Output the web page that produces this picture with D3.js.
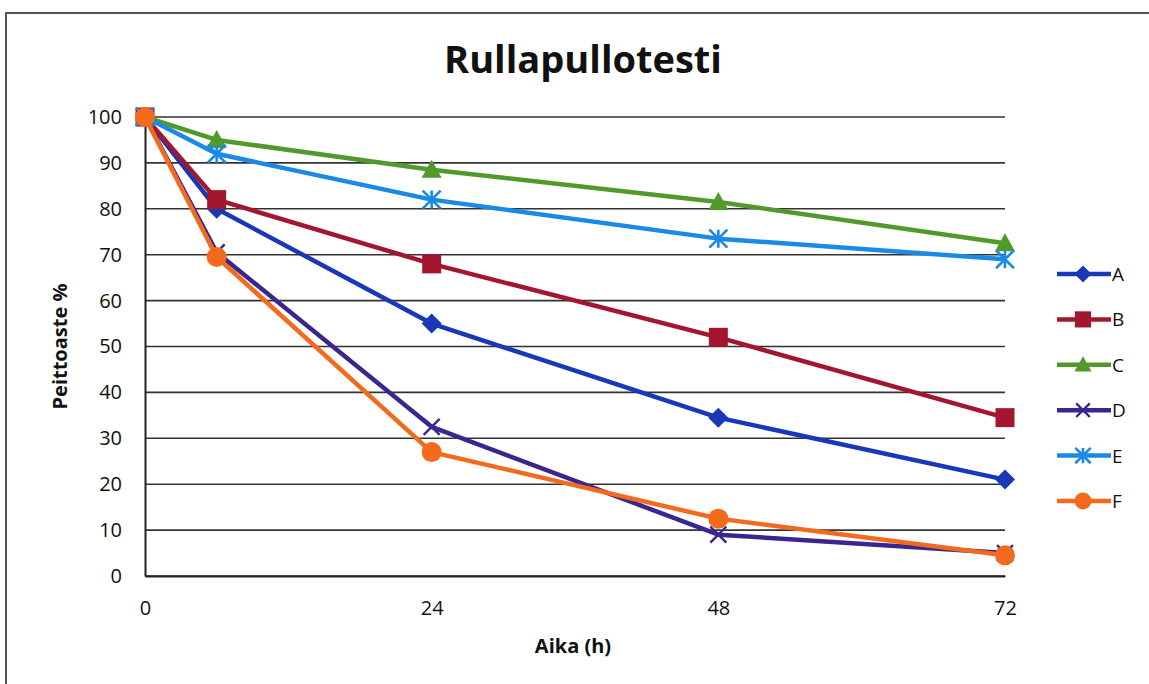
<!DOCTYPE html>
<html>
<head>
<meta charset="utf-8">
<script src="https://cdn.jsdelivr.net/npm/d3@7"></script>
<style>
  html, body { margin: 0; padding: 0; background: #fff; }
  svg { display: block; font-family: "Open Sans", "Liberation Sans", sans-serif; }
</style>
</head>
<body>
<svg id="chart" width="1149" height="684"></svg>
<script>
// Rolling bottle test: coverage (%) over time (h)
const hours = [0, 6, 24, 48, 72];
const seriesNames = ["A", "B", "C", "D", "E", "F"];
const valuesA = [100, 80, 55, 34.5, 21];
const valuesB = [100, 82, 68, 52, 34.5];
const valuesC = [100, 95, 88.5, 81.5, 72.5];
const valuesD = [100, 70.5, 32.5, 9, 5];
const valuesE = [100, 92, 82, 73.5, 69];
const valuesF = [100, 69.5, 27, 12.5, 4.5];
const xTicks = [0, 24, 48, 72];
const yTicks = [0, 10, 20, 30, 40, 50, 60, 70, 80, 90, 100];

const colors = ["#1838b8", "#a3172e", "#4f9a2a", "#3b2690", "#1a8ae6", "#f46a1c"];
const symbols = ["diamond", "square", "triangle", "x", "star", "circle"];

const series = seriesNames.map((name, i) => ({
  name,
  color: colors[i],
  symbol: symbols[i],
  values: [valuesA, valuesB, valuesC, valuesD, valuesE, valuesF][i]
}));

const svg = d3.select("#chart");

// outer frame (top and left edges)
svg.append("path")
  .attr("d", "M6,684 L6,13 L1149,13")
  .attr("fill", "none")
  .attr("stroke", "#555")
  .attr("stroke-width", 2);

const plot = { left: 145, right: 1005, top: 117, bottom: 576 };

const x = d3.scaleLinear().domain([0, 72]).range([plot.left, plot.right]);
const y = d3.scaleLinear().domain([0, 100]).range([plot.bottom, plot.top]);

// horizontal gridlines
svg.append("g")
  .selectAll("line")
  .data(yTicks)
  .join("line")
  .attr("x1", plot.left)
  .attr("x2", plot.right)
  .attr("y1", d => y(d))
  .attr("y2", d => y(d))
  .attr("stroke", "#333")
  .attr("stroke-width", 1.6);

// y axis
const yAxis = svg.append("g")
  .attr("transform", `translate(${plot.left},0)`)
  .call(d3.axisLeft(y).tickValues(yTicks).tickSize(0).tickPadding(23));
yAxis.select(".domain").attr("stroke", "#222").attr("stroke-width", 2);
yAxis.selectAll("text")
  .attr("font-size", 20)
  .attr("font-weight", 500)
  .attr("fill", "#111")
  .attr("font-family", "'Open Sans', sans-serif");

// x axis
const xAxis = svg.append("g")
  .attr("transform", `translate(0,${plot.bottom})`)
  .call(d3.axisBottom(x).tickValues(xTicks).tickSize(0).tickPadding(25));
xAxis.select(".domain").attr("stroke", "#222").attr("stroke-width", 2);
xAxis.selectAll("text")
  .attr("font-size", 20)
  .attr("font-weight", 500)
  .attr("fill", "#111")
  .attr("font-family", "'Open Sans', sans-serif");

// title and axis titles
svg.append("text")
  .attr("x", 583)
  .attr("y", 73)
  .attr("text-anchor", "middle")
  .attr("font-size", 38)
  .attr("font-weight", "bold")
  .attr("fill", "#111")
  .text("Rullapullotesti");

svg.append("text")
  .attr("x", 573)
  .attr("y", 653)
  .attr("text-anchor", "middle")
  .attr("font-size", 20)
  .attr("font-weight", "bold")
  .attr("fill", "#111")
  .text("Aika (h)");

svg.append("text")
  .attr("transform", `translate(67,${(plot.top + plot.bottom) / 2}) rotate(-90)`)
  .attr("text-anchor", "middle")
  .attr("font-size", 20)
  .attr("font-weight", "bold")
  .attr("fill", "#111")
  .text("Peittoaste %");

// marker drawing
function drawMarker(g, s, cx, cy, scale = 1) {
  const k = scale;
  if (s.symbol === "diamond") {
    const r = 10 * k;
    g.append("path")
      .attr("d", `M${cx},${cy - r} L${cx + r},${cy} L${cx},${cy + r} L${cx - r},${cy} Z`)
      .attr("fill", s.color);
  } else if (s.symbol === "square") {
    g.append("rect")
      .attr("x", cx - 9.5 * k).attr("y", cy - 9.5 * k)
      .attr("width", 19 * k).attr("height", 19 * k)
      .attr("fill", s.color);
  } else if (s.symbol === "triangle") {
    g.append("path")
      .attr("d", `M${cx},${cy - 10 * k} L${cx + 10 * k},${cy + 8 * k} L${cx - 10 * k},${cy + 8 * k} Z`)
      .attr("fill", s.color);
  } else if (s.symbol === "x") {
    const r = 8 * k;
    g.append("path")
      .attr("d", `M${cx - r},${cy - r} L${cx + r},${cy + r} M${cx - r},${cy + r} L${cx + r},${cy - r}`)
      .attr("stroke", s.color).attr("stroke-width", 2.4).attr("fill", "none");
  } else if (s.symbol === "star") {
    const r = 9 * k;
    g.append("path")
      .attr("d", `M${cx - r},${cy - r} L${cx + r},${cy + r} M${cx - r},${cy + r} L${cx + r},${cy - r} M${cx},${cy - r} L${cx},${cy + r}`)
      .attr("stroke", s.color).attr("stroke-width", 2.6).attr("fill", "none");
  } else if (s.symbol === "circle") {
    g.append("circle")
      .attr("cx", cx).attr("cy", cy).attr("r", 10 * k)
      .attr("fill", s.color);
  }
}

const line = d3.line()
  .x((d, i) => x(hours[i]))
  .y(d => y(d));

// series lines and markers
series.forEach(s => {
  const g = svg.append("g");
  g.append("path")
    .attr("d", line(s.values))
    .attr("fill", "none")
    .attr("stroke", s.color)
    .attr("stroke-width", 4.5)
    .attr("stroke-linejoin", "round");
  s.values.forEach((v, i) => drawMarker(g, s, x(hours[i]), y(v)));
});

// legend
const legend = svg.append("g");
series.forEach((s, i) => {
  const ly = 274 + i * 45.4;
  const g = legend.append("g");
  g.append("line")
    .attr("x1", 1057).attr("x2", 1111)
    .attr("y1", ly).attr("y2", ly)
    .attr("stroke", s.color).attr("stroke-width", 4.5);
  drawMarker(g, s, 1083, ly, 0.85);
  g.append("text")
    .attr("x", 1112).attr("y", ly + 7)
    .attr("font-size", 19)
    .attr("fill", "#111")
    .text(s.name);
});
</script>
</body>
</html>
